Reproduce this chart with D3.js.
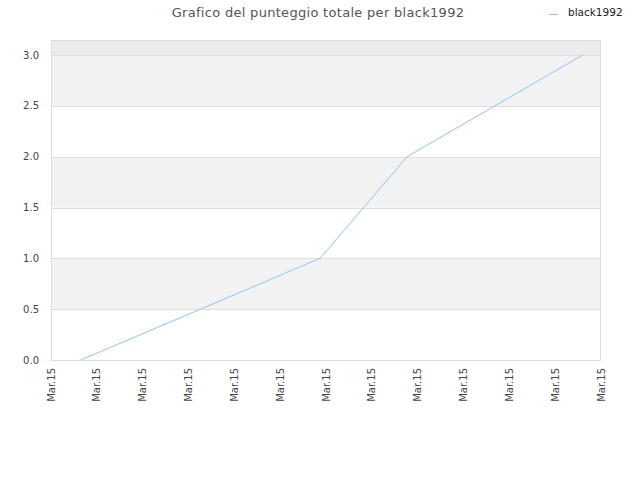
<!DOCTYPE html>
<html><head><meta charset="utf-8">
<script src="https://cdn.jsdelivr.net/npm/d3@7"></script>
<style>body{margin:0;background:#fff}svg{display:block}text{font-family:"DejaVu Sans",sans-serif}</style>
</head><body><div id="c"></div>
<script>
const title = "Grafico del punteggio totale per black1992";
const seriesName = "black1992";
const tickLabels = ["Mar.15","Mar.15","Mar.15","Mar.15","Mar.15","Mar.15","Mar.15","Mar.15","Mar.15","Mar.15","Mar.15","Mar.15","Mar.15"];
const xPos = [0.65, 5.87, 7.77, 11.6];
const scores = [0, 1, 2, 3];
const yTicks = [0, 0.5, 1, 1.5, 2, 2.5, 3];

const W = 640, H = 480;
const m = {l: 51, r: 39, t: 40, b: 120};
const svg = d3.select("#c").append("svg").attr("width", W).attr("height", H);
const x = d3.scaleLinear().domain([0, tickLabels.length - 1]).range([m.l, W - m.r]);
const y = d3.scaleLinear().domain([0, 3.148]).range([H - m.b, m.t]);

// bands
const bands = [[0,0.5,"#ffffff"],[0.5,1,"#f2f2f2"],[1,1.5,"#ffffff"],[1.5,2,"#f2f2f2"],[2,2.5,"#ffffff"],[2.5,3,"#f2f2f2"],[3,3.148,"#ececec"]];
svg.selectAll("rect.band").data(bands).enter().append("rect")
  .attr("x", m.l).attr("width", W - m.r - m.l)
  .attr("y", d => y(d[1])).attr("height", d => y(d[0]) - y(d[1]))
  .attr("fill", d => d[2]);

// grid
svg.selectAll("line.grid").data(yTicks.slice(1)).enter().append("line")
  .attr("x1", m.l).attr("x2", W - m.r)
  .attr("y1", d => Math.round(y(d)) + 0.5).attr("y2", d => Math.round(y(d)) + 0.5)
  .attr("stroke", "#dedede").attr("stroke-width", 1);

// border
svg.append("rect").attr("x", m.l + 0.5).attr("y", m.t + 0.5)
  .attr("width", W - m.r - m.l - 1).attr("height", H - m.b - m.t)
  .attr("fill", "none").attr("stroke", "#dcdcdc");

// y axis labels
svg.selectAll("text.yl").data(yTicks).enter().append("text")
  .attr("x", 39).attr("y", d => y(d) + 3.5).attr("text-anchor", "end")
  .attr("font-size", 10).attr("fill", "#444").text(d => d.toFixed(1));

// x axis labels
svg.selectAll("text.xl").data(tickLabels).enter().append("text")
  .attr("transform", (d, i) => `translate(${x(i) + 3.5},${H - m.b + 8}) rotate(-90)`)
  .attr("text-anchor", "end").attr("font-size", 10).attr("fill", "#444").text(d => d);

// line
const pts = xPos.map((v, i) => [v, scores[i]]);
svg.append("path").datum(pts)
  .attr("d", d3.line().x(d => x(d[0])).y(d => y(d[1])))
  .attr("fill", "none").attr("stroke", "#92c3f5").attr("stroke-width", 1);

// title
svg.append("text").attr("x", 318).attr("y", 17).attr("text-anchor", "middle")
  .attr("font-size", 13).attr("fill", "#555").attr("letter-spacing", 0.3).text(title);

// legend
svg.append("line").attr("x1", 549).attr("x2", 558).attr("y1", 14.5).attr("y2", 14.5)
  .attr("stroke", "#92c3f5").attr("stroke-width", 1);
svg.append("text").attr("x", 568).attr("y", 16).attr("font-size", 10.5)
  .attr("fill", "#222").text(seriesName);
</script></body></html>
